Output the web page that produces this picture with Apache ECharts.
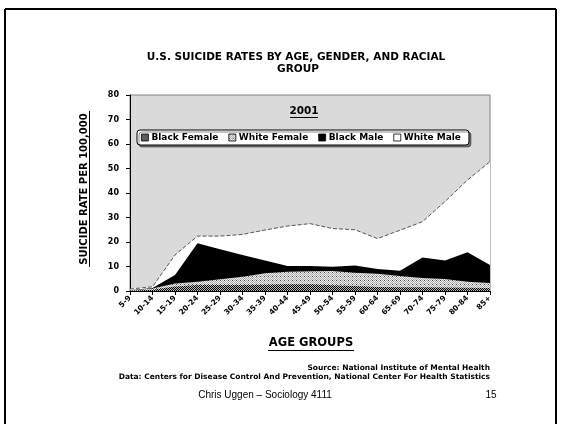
<!DOCTYPE html>
<html><head><meta charset="utf-8">
<script src="https://cdn.jsdelivr.net/npm/echarts@6/dist/echarts.min.js"></script>
<style>html,body{margin:0;padding:0;background:#fff}#c{width:562px;height:424px}</style>
</head><body><div id="c"></div>
<script>
// ---- data ----
const categories = ['5-9','10-14','15-19','20-24','25-29','30-34','35-39','40-44','45-49','50-54','55-59','60-64','65-69','70-74','75-79','80-84','85+'];
const whiteMale   = [0.8, 1.7, 14.7, 22.4, 22.4, 23.1, 24.9, 26.5, 27.5, 25.5, 25.0, 21.4, 24.8, 28.3, 36.5, 45.3, 52.8];
const blackMale   = [0.3, 1.2, 6.5, 19.5, 17.0, 14.7, 12.4, 10.2, 10.2, 9.9, 10.4, 9.0, 8.3, 13.7, 12.5, 15.8, 10.6];
const whiteFemale = [0.2, 1.0, 3.1, 3.8, 4.8, 5.8, 7.2, 7.9, 8.1, 8.2, 7.5, 7.0, 6.1, 5.3, 4.9, 3.8, 3.3];
const blackFemale = [0.1, 0.5, 1.8, 2.4, 2.5, 2.5, 2.6, 2.8, 2.8, 2.3, 2.0, 1.6, 1.5, 1.5, 1.4, 1.3, 1.2];
const yMin = 0, yMax = 80, yStep = 10;
const seriesNames = ['Black Female', 'White Female', 'Black Male', 'White Male'];

// ---- patterns ----
function makePattern(cells, size) {
  const cv = document.createElement('canvas');
  cv.width = size; cv.height = size;
  const ctx = cv.getContext('2d');
  for (let y = 0; y < size; y++) for (let x = 0; x < size; x++) {
    ctx.fillStyle = cells(x, y);
    ctx.fillRect(x, y, 1, 1);
  }
  return { image: cv, repeat: 'repeat' };
}
const patBlackFemale = makePattern((x, y) => ((x + y) % 2 === 0 ? '#000' : '#bbb'), 4);
const patWhiteFemale = makePattern((x, y) => {
  if ((x % 4 === 0) && (y % 4 === 0)) return '#444';
  return ((x + y) % 2 === 0) ? '#a8a8a8' : '#f0f0f0';
}, 4);

const FONT = 'DejaVu Sans';
const chart = echarts.init(document.getElementById('c'), null, { renderer: 'canvas' });

function area(name, data, fill, line) {
  return {
    name, type: 'line', data, symbol: 'none', smooth: false,
    lineStyle: line || { width: 0 },
    areaStyle: { color: fill, opacity: 1, origin: 'start' },
    itemStyle: { color: fill },
    emphasis: { disabled: true },
    animation: false
  };
}

chart.setOption({
  animation: false,
  backgroundColor: '#fff',
  grid: { left: 130, right: 72, top: 95, bottom: 133, show: true, backgroundColor: '#dadada', borderColor: '#808080', borderWidth: 1 },
  xAxis: {
    type: 'category', data: categories, boundaryGap: false,
    axisLine: { lineStyle: { color: '#000', width: 1 } },
    axisTick: { show: true, length: 4, alignWithLabel: true, lineStyle: { color: '#000' } },
    axisLabel: { rotate: 45, interval: 0, fontFamily: FONT, fontWeight: 'bold', fontSize: 7.5, color: '#000', margin: 6 },
    splitLine: { show: false }
  },
  yAxis: {
    type: 'value', min: yMin, max: yMax, interval: yStep,
    axisLine: { show: true, lineStyle: { color: '#000', width: 1 } },
    axisTick: { show: true, length: 4, lineStyle: { color: '#000' } },
    axisLabel: { fontFamily: FONT, fontWeight: 'bold', fontSize: 8, color: '#000', margin: 11 },
    splitLine: { show: false }
  },
  legend: {
    left: 137, top: 130, orient: 'horizontal', icon: 'rect',
    itemWidth: 7, itemHeight: 7, itemGap: 10,
    padding: [3, 8, 3, 4],
    backgroundColor: '#fff', borderColor: '#000', borderWidth: 1, borderRadius: 3,
    shadowColor: 'rgba(0,0,0,0.45)', shadowOffsetX: 2, shadowOffsetY: 2, shadowBlur: 0,
    textStyle: { fontFamily: FONT, fontWeight: 'bold', fontSize: 9, color: '#000', padding: [0, 0, 0, -2] },
    itemStyle: { borderColor: '#000', borderWidth: 0.8 },
    selectedMode: false,
    data: [
      { name: seriesNames[0], itemStyle: { color: patBlackFemale } },
      { name: seriesNames[1], itemStyle: { color: patWhiteFemale } },
      { name: seriesNames[2], itemStyle: { color: '#000' } },
      { name: seriesNames[3], itemStyle: { color: '#fff' } }
    ]
  },
  series: [
    area(seriesNames[3], whiteMale, '#ffffff', { width: 1, color: '#555', type: [4, 2] }),
    area(seriesNames[2], blackMale, '#000000'),
    area(seriesNames[1], whiteFemale, patWhiteFemale),
    area(seriesNames[0], blackFemale, patBlackFemale)
  ],
  graphic: [
    // slide frame
    { type: 'line', shape: { x1: 5, y1: 9, x2: 556, y2: 9 }, style: { stroke: '#000', lineWidth: 2 } },
    { type: 'line', shape: { x1: 5, y1: 9, x2: 5, y2: 430 }, style: { stroke: '#000', lineWidth: 2 } },
    { type: 'line', shape: { x1: 556, y1: 9, x2: 556, y2: 430 }, style: { stroke: '#000', lineWidth: 2 } },
    // title
    { type: 'text', x: 296, y: 57, style: { text: 'U.S. SUICIDE RATES BY AGE, GENDER, AND RACIAL', fontFamily: FONT, fontWeight: 'bold', fontSize: 10.5, fill: '#000', textAlign: 'center', textVerticalAlign: 'middle' } },
    { type: 'text', x: 298, y: 69, style: { text: 'GROUP', fontFamily: FONT, fontWeight: 'bold', fontSize: 10.5, fill: '#000', textAlign: 'center', textVerticalAlign: 'middle' } },
    // 2001
    { type: 'text', x: 304, y: 111, style: { text: '2001', fontFamily: FONT, fontWeight: 'bold', fontSize: 10.5, fill: '#000', textAlign: 'center', textVerticalAlign: 'middle' } },
    { type: 'line', shape: { x1: 290, y1: 117.5, x2: 318, y2: 117.5 }, style: { stroke: '#000', lineWidth: 1 } },
    // y axis title
    { type: 'text', x: 84, y: 189, rotation: Math.PI / 2, style: { text: 'SUICIDE RATE PER 100,000', fontFamily: FONT, fontWeight: 'bold', fontSize: 10, fill: '#000', textAlign: 'center', textVerticalAlign: 'middle' } },
    { type: 'line', shape: { x1: 89.5, y1: 111, x2: 89.5, y2: 267 }, style: { stroke: '#000', lineWidth: 1 } },
    // x axis title
    { type: 'text', x: 311, y: 343, style: { text: 'AGE GROUPS', fontFamily: FONT, fontWeight: 'bold', fontSize: 11.5, fill: '#000', textAlign: 'center', textVerticalAlign: 'middle' } },
    { type: 'line', shape: { x1: 268, y1: 350.5, x2: 354, y2: 350.5 }, style: { stroke: '#000', lineWidth: 1 } },
    // source
    { type: 'text', x: 490, y: 368, style: { text: 'Source: National Institute of Mental Health', fontFamily: FONT, fontWeight: 'bold', fontSize: 7.5, fill: '#000', textAlign: 'right', textVerticalAlign: 'middle' } },
    { type: 'text', x: 490, y: 377, style: { text: 'Data: Centers for Disease Control And Prevention, National Center For Health Statistics', fontFamily: FONT, fontWeight: 'bold', fontSize: 7.5, fill: '#000', textAlign: 'right', textVerticalAlign: 'middle' } },
    // footer
    { type: 'text', x: 265, y: 395, style: { text: 'Chris Uggen \u2013 Sociology 4111', fontFamily: 'Liberation Sans', fontSize: 10, fill: '#000', textAlign: 'center', textVerticalAlign: 'middle' } },
    { type: 'text', x: 491, y: 395, style: { text: '15', fontFamily: 'Liberation Sans', fontSize: 10, fill: '#000', textAlign: 'center', textVerticalAlign: 'middle' } }
  ]
});
</script>
</body></html>
